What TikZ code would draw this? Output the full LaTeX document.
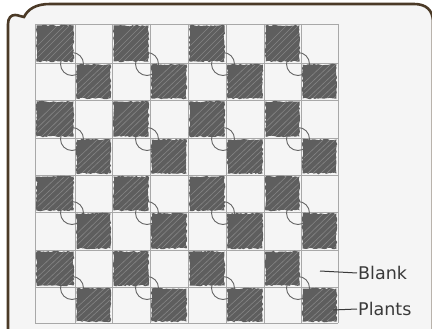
\documentclass[tikz,border=0pt]{standalone}
\usepackage{fontspec}
\setmainfont{DejaVu Sans}
\usetikzlibrary{decorations.pathmorphing}
\definecolor{framebrown}{HTML}{4B3A27}
\definecolor{paper}{HTML}{F5F5F5}
\definecolor{gridgray}{HTML}{A8A8A8}
\definecolor{plantgray}{HTML}{5E5E5E}
\definecolor{streak}{HTML}{858585}
\definecolor{pencil}{HTML}{3A3A3A}
\tikzset{
  frameline/.style={draw=framebrown, line width=2.6pt, fill=paper},
  gridline/.style={draw=gridgray, line width=0.9pt},
  plantbox/.style={fill=plantgray, decorate, decoration={random steps, segment length=2pt, amplitude=0.8pt}},
  streakline/.style={draw=streak, line width=0.6pt},
  ring/.style={draw=gray!80!black, line width=0.9pt},
  lbl/.style={text=pencil, font=\fontsize{17.5}{17.5}\selectfont, inner sep=1pt},
  leader/.style={draw=pencil, line width=1pt}
}
\begin{document}
\begin{tikzpicture}[x=1pt,y=-1pt]
\pgfmathsetseed{7}
\useasboundingbox (0,0) rectangle (432,329);
\fill[white] (0,0) rectangle (432,329);
% frame
\path[frameline] (8,345) -- (8,24) .. controls (8,18) and (11,15) .. (15,15)
  .. controls (19,15) and (21,17) .. (24,17)
  .. controls (28,9) and (36,4) .. (50,4) -- (414,4)
  .. controls (426,4) and (433,10) .. (433,22) -- (433,345);
\def\xs{{35,75,112,150,188,226,264,301,338}}
\def\ys{{24,63,100,138,175,212,250,287,323}}
% grid
\foreach \i in {0,...,8}{
  \pgfmathsetmacro\gx{\xs[\i]}
  \pgfmathsetmacro\gy{\ys[\i]}
  \draw[gridline] (\gx,24) -- (\gx,323);
  \draw[gridline] (35,\gy) -- (338,\gy);
}
% circles
\foreach \i in {1,3,5,7}{
  \foreach \j in {1,3,5,7}{
    \pgfmathsetmacro\cx{\xs[\i]-3}
    \pgfmathsetmacro\cy{\ys[\j]+1}
    \draw[ring] (\cx,\cy) circle (11.5);
  }
}
% plant squares
\foreach \r in {0,...,7}{
  \foreach \c in {0,...,7}{
    \pgfmathtruncatemacro\parity{mod(\r+\c,2)}
    \ifnum\parity=0
      \pgfmathsetmacro\xa{\xs[\c]+1.5}
      \pgfmathsetmacro\xb{\xs[\c+1]-1.5}
      \pgfmathsetmacro\ya{\ys[\r]+1.5}
      \pgfmathsetmacro\yb{\ys[\r+1]-1.5}
      \path[plantbox] (\xa,\ya) rectangle (\xb,\yb);
      \begin{scope}
        \clip (\xa+1,\ya+1) rectangle (\xb-1,\yb-1);
        \foreach \k in {4,11,16,24,29,37,43,50,57,63}{
          \draw[streakline] (\xa+\k-19,\yb) -- (\xa+\k+17,\ya);
        }
      \end{scope}
    \fi
  }
}
% labels
\node[lbl, anchor=west] (blank) at (357,273) {Blank};
\coordinate (blankpt) at (320,271);
\draw[leader] (blankpt) -- (blank.west);
\node[lbl, anchor=west] (plants) at (357,309) {Plants};
\coordinate (plantspt) at (333,310);
\draw[leader] (plantspt) -- (plants.west);
\end{tikzpicture}
\end{document}
